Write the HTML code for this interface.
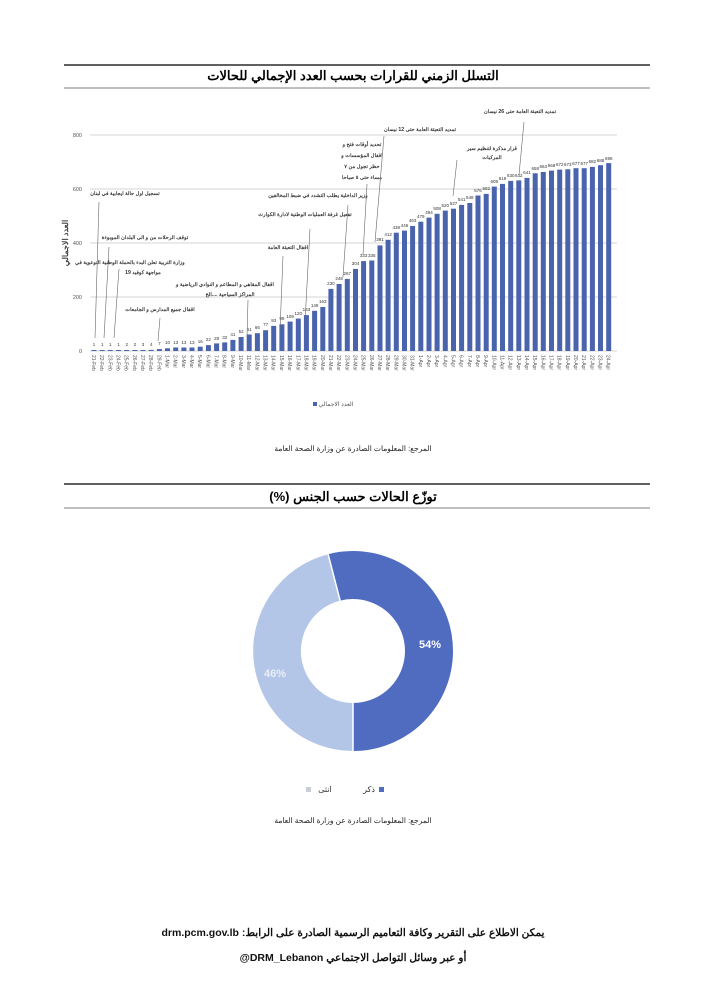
<!DOCTYPE html>
<html><head><meta charset="utf-8"><style>
html,body{margin:0;padding:0;background:#fff;}
svg{display:block;}
text{font-family:"Liberation Sans","Noto Sans CJK SC",sans-serif;}
</style></head><body>
<svg width="706" height="999" viewBox="0 0 706 999" xmlns="http://www.w3.org/2000/svg">
<rect width="706" height="999" fill="#fff"/>
<!-- section 1 header -->
<line x1="64" y1="65" x2="650" y2="65" stroke="#000" stroke-width="1.3"/>
<text x="353" y="80" font-size="13" font-weight="bold" text-anchor="middle" direction="rtl">التسلل الزمني للقرارات بحسب العدد الإجمالي للحالات</text>
<line x1="64" y1="88" x2="650" y2="88" stroke="#555" stroke-width="0.7"/>
<!-- grid -->
<g stroke="#aaa" stroke-width="0.6">
<line x1="90" y1="135" x2="617" y2="135"/>
<line x1="90" y1="189" x2="617" y2="189"/>
<line x1="90" y1="243" x2="617" y2="243"/>
<line x1="90" y1="297" x2="617" y2="297"/>
<line x1="90" y1="351" x2="617" y2="351"/>
</g>
<g font-size="5.5" fill="#555" text-anchor="end">
<text x="82" y="137">800</text><text x="82" y="191">600</text><text x="82" y="245">400</text><text x="82" y="299">200</text><text x="82" y="353">0</text>
</g>
<text transform="translate(68,243) rotate(-90)" font-size="8" font-weight="bold" fill="#444" text-anchor="middle">العدد الاجمالي</text>
<!-- bars -->
<g fill="#4a63ad">
<rect x="91.5" y="350" width="5" height="1"/><rect x="99.7" y="350" width="5" height="1"/><rect x="107.8" y="350" width="5" height="1"/><rect x="116" y="350" width="5" height="1"/>
<rect x="124.2" y="350" width="5" height="1"/><rect x="132.4" y="350" width="5" height="1"/><rect x="140.5" y="350" width="5" height="1"/><rect x="148.7" y="349.9" width="5" height="1.1"/>
<rect x="156.9" y="349.1" width="5" height="1.9"/><rect x="165" y="348.3" width="5" height="2.7"/><rect x="173.2" y="347.5" width="5" height="3.5"/><rect x="181.4" y="347.5" width="5" height="3.5"/>
<rect x="189.5" y="347.5" width="5" height="3.5"/><rect x="197.7" y="346.7" width="5" height="4.3"/><rect x="205.9" y="345.1" width="5" height="5.9"/><rect x="214.1" y="343.4" width="5" height="7.6"/>
<rect x="222.2" y="342.4" width="5" height="8.6"/><rect x="230.4" y="339.9" width="5" height="11.1"/><rect x="238.6" y="337" width="5" height="14"/><rect x="246.7" y="334.5" width="5" height="16.5"/>
<rect x="254.9" y="333.2" width="5" height="17.8"/><rect x="263.1" y="330.2" width="5" height="20.8"/><rect x="271.2" y="325.9" width="5" height="25.1"/><rect x="279.4" y="324.3" width="5" height="26.7"/>
<rect x="287.6" y="321.6" width="5" height="29.4"/><rect x="295.8" y="318.6" width="5" height="32.4"/><rect x="303.9" y="315.1" width="5" height="35.9"/><rect x="312.1" y="310.8" width="5" height="40.2"/>
<rect x="320.3" y="307" width="5" height="44"/><rect x="328.4" y="288.9" width="5" height="62.1"/><rect x="336.6" y="284" width="5" height="67"/><rect x="344.8" y="278.9" width="5" height="72.1"/>
<rect x="353" y="268.9" width="5" height="82.1"/><rect x="361.1" y="261.1" width="5" height="89.9"/><rect x="369.3" y="260.5" width="5" height="90.5"/><rect x="377.5" y="245.4" width="5" height="105.6"/>
<rect x="385.6" y="239.8" width="5" height="111.2"/><rect x="393.8" y="232.7" width="5" height="118.3"/><rect x="402" y="230.6" width="5" height="120.4"/><rect x="410.1" y="226" width="5" height="125"/>
<rect x="418.3" y="221.7" width="5" height="129.3"/><rect x="426.5" y="217.6" width="5" height="133.4"/><rect x="434.6" y="213.8" width="5" height="137.2"/><rect x="442.8" y="210.6" width="5" height="140.4"/>
<rect x="451" y="208.7" width="5" height="142.3"/><rect x="459.1" y="204.9" width="5" height="146.1"/><rect x="467.3" y="203" width="5" height="148"/><rect x="475.5" y="195.5" width="5" height="155.5"/>
<rect x="483.7" y="193.9" width="5" height="157.1"/><rect x="491.8" y="186.6" width="5" height="164.4"/><rect x="500" y="183.9" width="5" height="167.1"/><rect x="508.2" y="180.9" width="5" height="170.1"/>
<rect x="516.3" y="180.4" width="5" height="170.6"/><rect x="524.5" y="177.9" width="5" height="173.1"/><rect x="532.7" y="173.3" width="5" height="177.7"/><rect x="540.8" y="172" width="5" height="179"/>
<rect x="549" y="170.6" width="5" height="180.4"/><rect x="557.2" y="169.6" width="5" height="181.4"/><rect x="565.3" y="169.3" width="5" height="181.7"/><rect x="573.5" y="168.2" width="5" height="182.8"/>
<rect x="581.7" y="168.2" width="5" height="182.8"/><rect x="589.9" y="166.9" width="5" height="184.1"/><rect x="598" y="165.2" width="5" height="185.8"/><rect x="606.2" y="163.1" width="5" height="187.9"/>
</g>
<!-- value labels -->
<g font-size="4.5" fill="#333" text-anchor="middle">
<text x="94" y="346">1</text><text x="102.2" y="346">1</text><text x="110.3" y="346">1</text><text x="118.5" y="346">1</text><text x="126.7" y="346">2</text><text x="134.9" y="346">2</text><text x="143" y="346">3</text><text x="151.2" y="346">4</text>
<text x="159.4" y="345">7</text><text x="167.5" y="344">10</text><text x="175.7" y="344">13</text><text x="183.9" y="344">13</text><text x="192" y="344">13</text><text x="200.2" y="343">16</text><text x="208.4" y="341">22</text><text x="216.6" y="340">28</text>
<text x="224.7" y="339">32</text><text x="232.9" y="336">41</text><text x="241.1" y="333">52</text><text x="249.2" y="331">61</text><text x="257.4" y="329">66</text><text x="265.6" y="326">77</text><text x="273.7" y="322">93</text><text x="281.9" y="320">99</text>
<text x="290.1" y="318">109</text><text x="298.3" y="315">120</text><text x="306.4" y="311">133</text><text x="314.6" y="307">149</text><text x="322.8" y="303">163</text><text x="330.9" y="285">230</text><text x="339.1" y="280">248</text><text x="347.3" y="275">267</text>
<text x="355.5" y="265">304</text><text x="363.6" y="257">333</text><text x="371.8" y="257">335</text><text x="380" y="241">391</text><text x="388.1" y="236">412</text><text x="396.3" y="229">438</text><text x="404.5" y="227">446</text><text x="412.6" y="222">463</text>
<text x="420.8" y="218">479</text><text x="429" y="214">494</text><text x="437.1" y="210">508</text><text x="445.3" y="207">520</text><text x="453.5" y="205">527</text><text x="461.6" y="201">541</text><text x="469.8" y="199">548</text><text x="478" y="192">576</text>
<text x="486.2" y="190">582</text><text x="494.3" y="183">609</text><text x="502.5" y="180">619</text><text x="510.7" y="177">630</text><text x="518.8" y="177">632</text><text x="527" y="174">641</text><text x="535.2" y="170">658</text><text x="543.3" y="168">663</text>
<text x="551.5" y="167">668</text><text x="559.7" y="166">672</text><text x="567.8" y="166">673</text><text x="576" y="165">677</text><text x="584.2" y="165">677</text><text x="592.4" y="163">682</text><text x="600.5" y="162">688</text><text x="608.7" y="160">696</text>
</g>
<!-- date labels -->
<g font-size="5" fill="#555">
<text transform="translate(92,355) rotate(90)">21-Feb</text><text transform="translate(100.2,355) rotate(90)">22-Feb</text><text transform="translate(108.3,355) rotate(90)">23-Feb</text><text transform="translate(116.5,355) rotate(90)">24-Feb</text>
<text transform="translate(124.7,355) rotate(90)">25-Feb</text><text transform="translate(132.9,355) rotate(90)">26-Feb</text><text transform="translate(141,355) rotate(90)">27-Feb</text><text transform="translate(149.2,355) rotate(90)">28-Feb</text>
<text transform="translate(157.4,355) rotate(90)">29-Feb</text><text transform="translate(165.5,355) rotate(90)">1-Mar</text><text transform="translate(173.7,355) rotate(90)">2-Mar</text><text transform="translate(181.9,355) rotate(90)">3-Mar</text>
<text transform="translate(190,355) rotate(90)">4-Mar</text><text transform="translate(198.2,355) rotate(90)">5-Mar</text><text transform="translate(206.4,355) rotate(90)">6-Mar</text><text transform="translate(214.6,355) rotate(90)">7-Mar</text>
<text transform="translate(222.7,355) rotate(90)">8-Mar</text><text transform="translate(230.9,355) rotate(90)">9-Mar</text><text transform="translate(239.1,355) rotate(90)">10-Mar</text><text transform="translate(247.2,355) rotate(90)">11-Mar</text>
<text transform="translate(255.4,355) rotate(90)">12-Mar</text><text transform="translate(263.6,355) rotate(90)">13-Mar</text><text transform="translate(271.7,355) rotate(90)">14-Mar</text><text transform="translate(279.9,355) rotate(90)">15-Mar</text>
<text transform="translate(288.1,355) rotate(90)">16-Mar</text><text transform="translate(296.3,355) rotate(90)">17-Mar</text><text transform="translate(304.4,355) rotate(90)">18-Mar</text><text transform="translate(312.6,355) rotate(90)">19-Mar</text>
<text transform="translate(320.8,355) rotate(90)">20-Mar</text><text transform="translate(328.9,355) rotate(90)">21-Mar</text><text transform="translate(337.1,355) rotate(90)">22-Mar</text><text transform="translate(345.3,355) rotate(90)">23-Mar</text>
<text transform="translate(353.5,355) rotate(90)">24-Mar</text><text transform="translate(361.6,355) rotate(90)">25-Mar</text><text transform="translate(369.8,355) rotate(90)">26-Mar</text><text transform="translate(378,355) rotate(90)">27-Mar</text>
<text transform="translate(386.1,355) rotate(90)">28-Mar</text><text transform="translate(394.3,355) rotate(90)">29-Mar</text><text transform="translate(402.5,355) rotate(90)">30-Mar</text><text transform="translate(410.6,355) rotate(90)">31-Mar</text>
<text transform="translate(418.8,355) rotate(90)">1-Apr</text><text transform="translate(427,355) rotate(90)">2-Apr</text><text transform="translate(435.1,355) rotate(90)">3-Apr</text><text transform="translate(443.3,355) rotate(90)">4-Apr</text>
<text transform="translate(451.5,355) rotate(90)">5-Apr</text><text transform="translate(459.6,355) rotate(90)">6-Apr</text><text transform="translate(467.8,355) rotate(90)">7-Apr</text><text transform="translate(476,355) rotate(90)">8-Apr</text>
<text transform="translate(484.2,355) rotate(90)">9-Apr</text><text transform="translate(492.3,355) rotate(90)">10-Apr</text><text transform="translate(500.5,355) rotate(90)">11-Apr</text><text transform="translate(508.7,355) rotate(90)">12-Apr</text>
<text transform="translate(516.8,355) rotate(90)">13-Apr</text><text transform="translate(525,355) rotate(90)">14-Apr</text><text transform="translate(533.2,355) rotate(90)">15-Apr</text><text transform="translate(541.3,355) rotate(90)">16-Apr</text>
<text transform="translate(549.5,355) rotate(90)">17-Apr</text><text transform="translate(557.7,355) rotate(90)">18-Apr</text><text transform="translate(565.8,355) rotate(90)">19-Apr</text><text transform="translate(574,355) rotate(90)">20-Apr</text>
<text transform="translate(582.2,355) rotate(90)">21-Apr</text><text transform="translate(590.4,355) rotate(90)">22-Apr</text><text transform="translate(598.5,355) rotate(90)">23-Apr</text><text transform="translate(606.7,355) rotate(90)">24-Apr</text>
</g>
<!-- legend -->
<rect x="313" y="402" width="4" height="4" fill="#4a63ad"/>
<text x="336" y="406" font-size="6" fill="#555" text-anchor="middle">العدد الاجمالي</text>
<!-- annotations -->
<g font-size="5.2" font-weight="bold" fill="#333" text-anchor="middle">
<text x="125" y="195">تسجيل اول حالة ايجابية في لبنان</text>
<text x="145" y="239">توقف الرحلات من و الى البلدان الموبوءة</text>
<text x="130" y="264">وزارة التربية تعلن البدء بالحملة الوطنية التوعوية في</text>
<text x="143" y="274">مواجهة كوفيد 19</text>
<text x="160" y="311">اقفال جميع المدارس و الجامعات</text>
<text x="225" y="286">اقفال المقاهي و المطاعم و النوادي الرياضية و</text>
<text x="230" y="296">المراكز السياحية ....الخ</text>
<text x="288" y="249">اقفال التعبئة العامة</text>
<text x="305" y="216">تفعيل غرفة العمليات الوطنية لادارة الكوارث</text>
<text x="318" y="197">وزير الداخلية يطلب التشدد في ضبط المخالفين</text>
<text x="362" y="146">تحديد أوقات فتح و</text>
<text x="362" y="157">اقفال المؤسسات و</text>
<text x="362" y="168">حظر تجول من ٧</text>
<text x="362" y="179">مساء حتى ٥ صباحا</text>
<text x="420" y="131">تمديد التعبئة العامة حتى 12 نيسان</text>
<text x="492" y="150">قرار مذكرة لتنظيم سير</text>
<text x="492" y="159">المركبات</text>
<text x="520" y="113">تمديد التعبئة العامة حتى 26 نيسان</text>
</g>
<g stroke="#666" stroke-width="0.6" fill="none">
<path d="M95 338 L99 202"/><path d="M104 338 L109 247"/><path d="M114 338 L119 269"/>
<path d="M158 341 L160 318"/><path d="M247 337 L248 300"/><path d="M280 330 L283 256"/>
<path d="M305 322 L310 229"/><path d="M343 277 L348 205"/><path d="M363 255 L367 184"/>
<path d="M375 242 L384 136"/><path d="M453 196 L457 160"/><path d="M519 175 L524 122"/>
</g>
<text x="353" y="451" font-size="7.5" fill="#222" text-anchor="middle" direction="rtl">المرجع: المعلومات الصادرة عن وزارة الصحة العامة</text>
<!-- section 2 -->
<line x1="64" y1="484" x2="650" y2="484" stroke="#000" stroke-width="1.3"/>
<text x="353" y="501" font-size="13" font-weight="bold" text-anchor="middle" direction="rtl">توزّع الحالات حسب الجنس (%)</text>
<line x1="64" y1="508" x2="650" y2="508" stroke="#555" stroke-width="0.7"/>
<!-- donut: center 353,651 r outer 100, inner 52 -->
<path d="M353 751 A100 100 0 0 1 328.1 554.2 L340.1 600.6 A52 52 0 0 0 353 703 Z" fill="#b4c6e7"/>
<path d="M328.1 554.2 A100 100 0 0 1 353 551 A100 100 0 0 1 353 751 L353 703 A52 52 0 0 0 353 599 A52 52 0 0 0 340.1 600.6 Z" fill="#4f6cc1"/>
<line x1="328.1" y1="554.2" x2="340.1" y2="600.6" stroke="#fff" stroke-width="1.5"/>
<line x1="353" y1="751" x2="353" y2="703" stroke="#fff" stroke-width="1.5"/>
<text x="430" y="648" font-size="11" font-weight="bold" fill="#fff" text-anchor="middle">54%</text>
<text x="275" y="677" font-size="11" font-weight="bold" fill="#e9eef8" text-anchor="middle">46%</text>
<rect x="379" y="787" width="5" height="5" fill="#4f6cc1"/>
<text x="369" y="792" font-size="8" fill="#333" text-anchor="middle">ذكر</text>
<rect x="306" y="787" width="5" height="5" fill="#c9cdd6"/>
<text x="325" y="792" font-size="8" fill="#333" text-anchor="middle">انثى</text>
<text x="353" y="823" font-size="7.5" fill="#222" text-anchor="middle" direction="rtl">المرجع: المعلومات الصادرة عن وزارة الصحة العامة</text>
<!-- footer -->
<text x="353" y="936" font-size="10.5" font-weight="bold" fill="#111" text-anchor="middle" direction="rtl">يمكن الاطلاع على التقرير وكافة التعاميم الرسمية الصادرة على الرابط: drm.pcm.gov.lb</text>
<text x="353" y="961" font-size="10.5" font-weight="bold" fill="#111" text-anchor="middle" direction="rtl">أو عبر وسائل التواصل الاجتماعي DRM_Lebanon@</text>
</svg>
</body></html>
